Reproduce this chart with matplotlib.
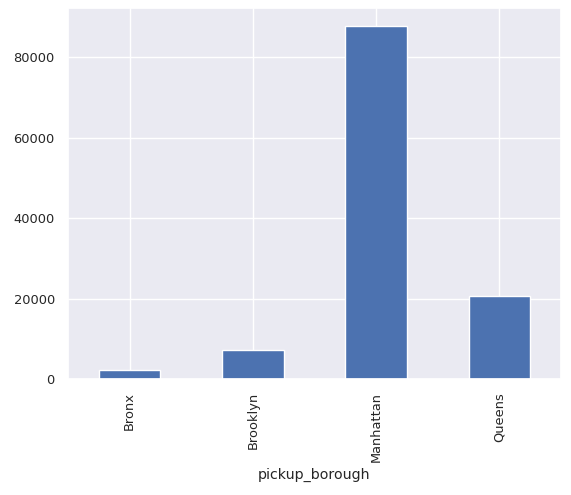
import matplotlib
matplotlib.use("Agg")
import matplotlib.pyplot as plt
import seaborn as sns
import pandas as pd

sns.set_theme(font_scale=0.85)

boroughs = ["Bronx", "Brooklyn", "Manhattan", "Queens"]
counts = [2300, 7300, 87800, 20700]

s = pd.Series(counts, index=pd.Index(boroughs, name="pickup_borough"))
fig = plt.figure(figsize=(5.71, 4.95), dpi=100)
ax = fig.add_axes([68/571, 1-379/495, (561-68)/571, (379-8)/495])
s.plot(kind="bar", ax=ax)
fig.savefig("out.png", dpi=100)
